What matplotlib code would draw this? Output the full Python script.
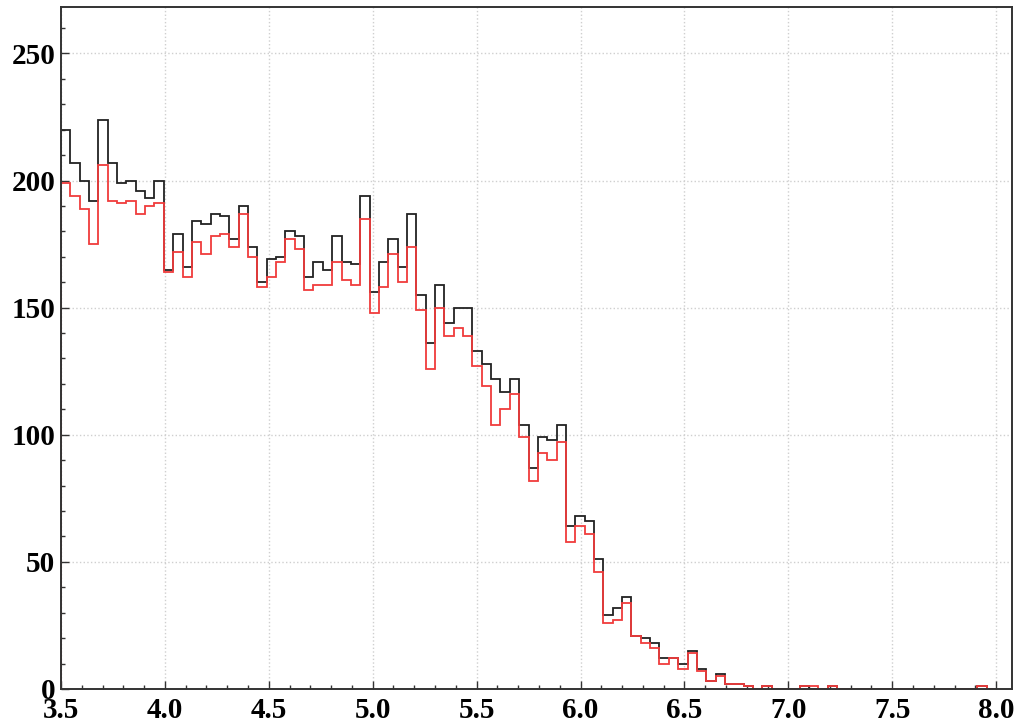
import numpy as np
import matplotlib
matplotlib.use("Agg")
import matplotlib.pyplot as plt
from matplotlib.ticker import MultipleLocator

# histogram binning: 100 bins from 3.5 to 8.0
xmin, xmax, nbins = 3.5, 8.0, 100

# black histogram (all)
h_black = [220, 207, 200, 192, 224, 207, 199, 200, 196, 193,
           200, 165, 179, 166, 184, 183, 187, 186, 177, 190,
           174, 160, 169, 170, 180, 178, 162, 168, 165, 178,
           168, 167, 194, 156, 168, 177, 166, 187, 155, 136,
           159, 144, 150, 150, 133, 128, 122, 117, 122, 104,
           87, 99, 98, 104, 64, 68, 66, 51, 29, 32,
           36, 21, 20, 18, 12, 12, 10, 15, 8, 3,
           6, 2, 2, 1, 0, 1, 0, 0, 0, 1,
           0, 0, 1, 0, 0, 0, 0, 0, 0, 0,
           0, 0, 0, 0, 0, 0, 0, 0, 1, 0]

# red histogram (selected)
h_red = [199, 194, 189, 175, 206, 192, 191, 192, 187, 190,
         191, 164, 172, 162, 176, 171, 178, 179, 174, 187,
         170, 158, 162, 168, 177, 173, 157, 159, 159, 168,
         161, 159, 185, 148, 158, 171, 160, 174, 149, 126,
         150, 139, 142, 139, 127, 119, 104, 110, 116, 99,
         82, 93, 90, 97, 58, 64, 61, 46, 26, 27,
         34, 21, 18, 16, 10, 12, 8, 14, 7, 3,
         5, 2, 2, 1, 0, 1, 0, 0, 0, 1,
         1, 0, 1, 0, 0, 0, 0, 0, 0, 0,
         0, 0, 0, 0, 0, 0, 0, 0, 1, 0]

edges = np.linspace(xmin, xmax, nbins + 1)

fig = plt.figure(figsize=(10.16, 7.25), dpi=100)
ax = fig.add_axes([0.060, 0.0497, 0.9358, 0.9411])

ax.stairs(h_black, edges, baseline=0, color='#222222', lw=1.3)
ax.stairs(h_red, edges, baseline=0, color='#f03c3c', lw=1.3)

ax.set_xlim(3.5, 8.075)
ax.set_ylim(0, 268.4)

ax.xaxis.set_major_locator(MultipleLocator(0.5))
ax.xaxis.set_minor_locator(MultipleLocator(0.1))
ax.yaxis.set_major_locator(MultipleLocator(50))
ax.yaxis.set_minor_locator(MultipleLocator(10))
ax.xaxis.set_major_formatter(plt.FormatStrFormatter('%.1f'))

ax.grid(True, which='major', linestyle=':', color='#cfcfcf', lw=1.0)
ax.set_axisbelow(True)

ax.tick_params(which='both', direction='in', color='#333333', width=1.0,
               top=False, right=False)
ax.tick_params(which='major', length=6)
ax.tick_params(which='minor', length=3)
ax.tick_params(axis='x', which='major', pad=6)
ax.tick_params(axis='y', which='major', pad=4)

for lab in ax.get_xticklabels() + ax.get_yticklabels():
    lab.set_fontfamily('Liberation Serif')
    lab.set_fontweight('bold')
    lab.set_fontsize(21)

for sp in ax.spines.values():
    sp.set_color('#333333')
    sp.set_linewidth(1.4)

fig.savefig("out.png", dpi=100)
